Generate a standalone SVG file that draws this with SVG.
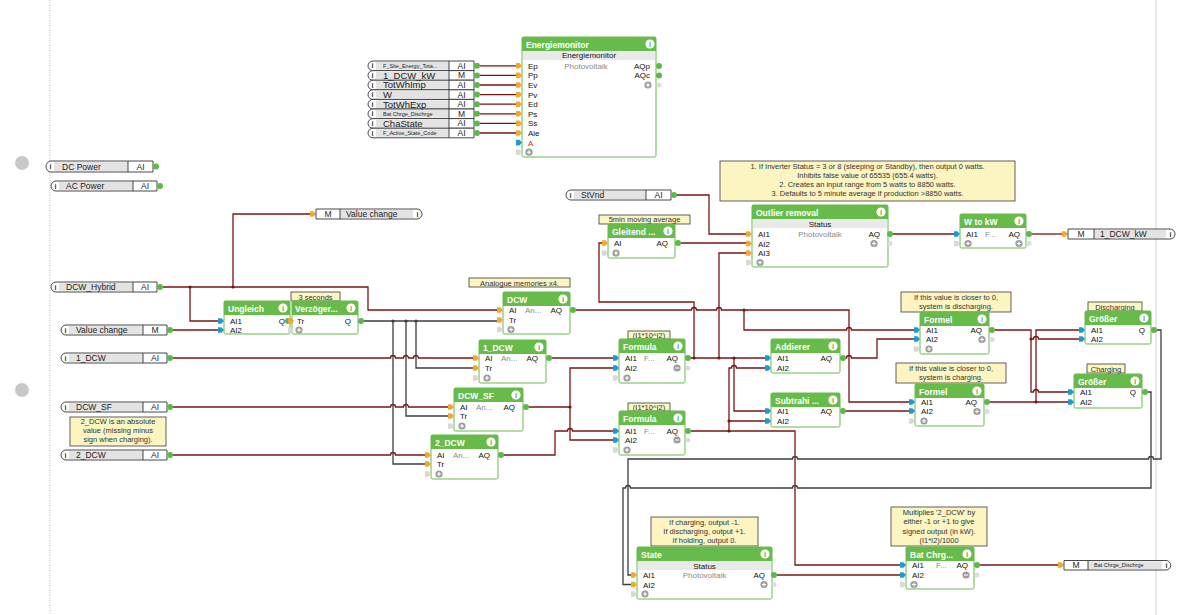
<svg xmlns="http://www.w3.org/2000/svg" width="1185" height="615" viewBox="0 0 1185 615">
<style>
text{font-family:"Liberation Sans",Arial,sans-serif}
.bx{fill:#fff;stroke:#66bb4a;stroke-width:1}
.hd{fill:#66bb4a}
.sb{fill:#e9e9e9}
.tt{font-size:8.5px;font-weight:bold;fill:#fff}
.lb{font-size:8px;fill:#111}
.gr{fill:#8a8a8a}
.c{text-anchor:middle}
.e{text-anchor:end}
.red{fill:#e02020}
.nb{fill:#fcf5c2;stroke:#3a3a3a;stroke-width:0.8}
.nt{font-size:7.5px;fill:#333;text-anchor:middle}
.pb{fill:#fff;stroke:#333;stroke-width:0.9}
.pg{fill:#e3e3e3}
.pt{font-size:8.5px;fill:#222}
.ps{font-size:5.5px;fill:#222}
.pL{font-size:9.5px;fill:#222}
.pi{font-size:7px;font-weight:bold;fill:#333;text-anchor:middle}
.w{fill:none;stroke:#7a1414;stroke-width:1.3}
.d{fill:none;stroke:#3c3c3c;stroke-width:1.3}
.jw{fill:#7a1414}
.jd{fill:#3c3c3c}
</style>
<defs>
<polygon id="po" points="-6,-2.8 -2.6,-2.8 0,0 -2.6,2.8 -6,2.8" fill="#f3a733"/>
<polygon id="pbl" points="-6,-2.8 -2.6,-2.8 0,0 -2.6,2.8 -6,2.8" fill="#1c9ad6"/>
<polygon id="px" points="-6,-2.8 -2.6,-2.8 0,0 -2.6,2.8 -6,2.8" fill="#d8d8d8"/>
<circle id="go" r="3" fill="#5cb84a"/>
<circle id="gi" r="2.5" fill="#dcdcdc"/>
<g id="pl"><circle r="3.6" fill="#9c9c9c"/><path d="M-2,0H2M0,-2V2" stroke="#fff" stroke-width="1.1"/></g>
<g id="mi"><circle r="3.6" fill="#9c9c9c"/><path d="M-2,0H2" stroke="#fff" stroke-width="1.1"/></g>
<g id="inf"><circle r="4.6" fill="#fff"/><text y="2.6" text-anchor="middle" font-size="7.5" font-weight="bold" fill="#5aa83f" font-family="Liberation Sans, Arial, sans-serif">i</text></g>
</defs>
<rect width="1185" height="615" fill="#fff"/>
<line x1="50" y1="0" x2="50" y2="615" stroke="#bbb" stroke-dasharray="1,1.5"/>
<line x1="1156" y1="0" x2="1156" y2="615" stroke="#e8e8e8" stroke-width="2"/>
<circle cx="22" cy="163" r="7" fill="#c8c8c8"/>
<circle cx="22" cy="390" r="7" fill="#c8c8c8"/>

<!-- connectors -->
<g id="connectors">
<path class="w" d="M480,65.8H516M480,75.4H516M480,85H516M480,94.6H516M480,104.2H516M480,113.8H516M480,123.4H516M480,133H516"/>
<path class="w" d="M677,195H709V234H747"/>
<path class="w" d="M681,243H747"/>
<path class="w" d="M893,234H955"/>
<path class="w" d="M1032,234H1063"/>
<path class="w" d="M163,287H368V310H498"/>
<path class="w" d="M190,287V321H219"/>
<path class="w" d="M233,287V214H311"/>
<path class="w" d="M173,330H219"/>
<path class="w" d="M173,358H390.5a2.5,2.5 0 0 1 5,0H403.5a2.5,2.5 0 0 1 5,0H413.5a2.5,2.5 0 0 1 5,0H474"/>
<path class="w" d="M173,407H390.5a2.5,2.5 0 0 1 5,0H403.5a2.5,2.5 0 0 1 5,0H449"/>
<path class="w" d="M173,455H390.5a2.5,2.5 0 0 1 5,0H426"/>
<path class="w" d="M576,310H691.5a2.5,2.5 0 0 1 5,0H716.5a2.5,2.5 0 0 1 5,0H849V402H910"/>
<path class="w" d="M744,310V330H846.5a2.5,2.5 0 0 1 5,0H915"/>
<path class="w" d="M552,358H614"/>
<path class="w" d="M529,407H570V368H614"/>
<path class="w" d="M570,407V440H614"/>
<path class="w" d="M504,455H555V431H567.5a2.5,2.5 0 0 1 5,0H614"/>
<path class="w" d="M691,358H766"/>
<path class="w" d="M694,358V302H599V243H603"/>
<path class="w" d="M719,358V253H747"/>
<path class="w" d="M734,358V411H766"/>
<path class="w" d="M691,431H795V565H901"/>
<path class="w" d="M729,431V368H731.5a2.5,2.5 0 0 1 5,0H766"/>
<path class="w" d="M729,421H766"/>
<path class="w" d="M846,358H846.5a2.5,2.5 0 0 1 5,0H877V339H915"/>
<path class="w" d="M846,411H910"/>
<path class="w" d="M995,330H1031V392H1033.5a2.5,2.5 0 0 1 5,0H1069"/>
<path class="w" d="M1031,339H1033.5a2.5,2.5 0 0 1 5,0H1080"/>
<path class="w" d="M990,402H1069"/>
<path class="w" d="M1036,402V330H1080"/>
<path class="w" d="M777,575H901"/>
<path class="w" d="M980,565H1059"/>
<path class="d" d="M287,321H289"/>
<path class="d" d="M364,321H498"/>
<path class="d" d="M393,321V464H426"/>
<path class="d" d="M406,321V416H449"/>
<path class="d" d="M416,321V368H474"/>
<path class="d" d="M1157,330H1161V459H1153.5a2.5,2.5 0 0 0 -5,0H797.5a2.5,2.5 0 0 0 -5,0H628V575H632"/>
<path class="d" d="M1148,392H1151V488H797.5a2.5,2.5 0 0 0 -5,0H630.5a2.5,2.5 0 0 0 -5,0H623V584.5H632"/>
<circle class="jw" cx="190" cy="287" r="1.6"/><circle class="jw" cx="233" cy="287" r="1.6"/>
<circle class="jd" cx="393" cy="321" r="1.6"/><circle class="jd" cx="406" cy="321" r="1.6"/><circle class="jd" cx="416" cy="321" r="1.6"/>
<circle class="jw" cx="570" cy="407" r="1.6"/><circle class="jw" cx="744" cy="310" r="1.6"/>
<circle class="jw" cx="694" cy="358" r="1.6"/><circle class="jw" cx="719" cy="358" r="1.6"/><circle class="jw" cx="734" cy="358" r="1.6"/>
<circle class="jw" cx="729" cy="431" r="1.6"/><circle class="jw" cx="729" cy="421" r="1.6"/>
<circle class="jw" cx="1031" cy="339" r="1.6"/><circle class="jw" cx="1036" cy="402" r="1.6"/>
</g>

<!-- left inputs -->
<g id="in-dcpower">
<path class="pb" d="M51,161H153V172H51A5,5.5 0 0 1 51,161Z"/><rect class="pg" x="54" y="162" width="74" height="9"/><path class="pb" d="M128,161V172"/>
<text class="pi" x="50.5" y="169">i</text><text class="pt" x="62" y="169.5">DC Power</text><text class="pt c" x="140.5" y="169.5">AI</text><use href="#go" x="156" y="166.5"/>
</g>
<g id="in-acpower">
<path class="pb" d="M56,181H157V191H56A5,5 0 0 1 56,181Z"/><rect class="pg" x="59" y="182" width="74" height="8"/><path class="pb" d="M133,181V191"/>
<text class="pi" x="55.5" y="188.5">i</text><text class="pt" x="66" y="189">AC Power</text><text class="pt c" x="145" y="189">AI</text><use href="#go" x="160" y="186"/>
</g>
<g id="in-dcwhybrid">
<path class="pb" d="M56,282H157V292H56A5,5 0 0 1 56,282Z"/><rect class="pg" x="59" y="283" width="74" height="8"/><path class="pb" d="M133,282V292"/>
<text class="pi" x="55.5" y="289.5">i</text><text class="pt" x="66" y="290">DCW_Hybrid</text><text class="pt c" x="145" y="290">AI</text><use href="#go" x="160" y="287"/>
</g>
<g id="in-valuechange">
<path class="pb" d="M66,325H167V335H66A5,5 0 0 1 66,325Z"/><rect class="pg" x="69" y="326" width="74" height="8"/><path class="pb" d="M143,325V335"/>
<text class="pi" x="65.5" y="332.5">i</text><text class="pt" x="76" y="333">Value change</text><text class="pt c" x="155" y="333">M</text><use href="#go" x="170" y="330"/>
</g>
<g id="in-1dcw">
<path class="pb" d="M66,353H167V363H66A5,5 0 0 1 66,353Z"/><rect class="pg" x="69" y="354" width="74" height="8"/><path class="pb" d="M143,353V363"/>
<text class="pi" x="65.5" y="360.5">i</text><text class="pt" x="76" y="361">1_DCW</text><text class="pt c" x="155" y="361">AI</text><use href="#go" x="170" y="358"/>
</g>
<g id="in-dcwsf">
<path class="pb" d="M66,402H167V412H66A5,5 0 0 1 66,402Z"/><rect class="pg" x="69" y="403" width="74" height="8"/><path class="pb" d="M143,402V412"/>
<text class="pi" x="65.5" y="409.5">i</text><text class="pt" x="76" y="410">DCW_SF</text><text class="pt c" x="155" y="410">AI</text><use href="#go" x="170" y="407"/>
</g>
<g id="in-2dcw">
<path class="pb" d="M66,450H167V460H66A5,5 0 0 1 66,450Z"/><rect class="pg" x="69" y="451" width="74" height="8"/><path class="pb" d="M143,450V460"/>
<text class="pi" x="65.5" y="457.5">i</text><text class="pt" x="76" y="458">2_DCW</text><text class="pt c" x="155" y="458">AI</text><use href="#go" x="170" y="455"/>
</g>
<g id="note-2dcw">
<rect class="nb" x="70" y="417" width="96" height="29"/>
<text class="nt" x="118" y="424">2_DCW is an absolute</text><text class="nt" x="118" y="433">value (missing minus</text><text class="nt" x="118" y="442">sign when charging).</text>
</g>
<g id="in-stvnd">
<path class="pb" d="M571,190H671V200H571A5,5 0 0 1 571,190Z"/><rect class="pg" x="574" y="191" width="72" height="8"/><path class="pb" d="M646,190V200"/>
<text class="pi" x="570.5" y="197.5">i</text><text class="pt" x="581" y="198">StVnd</text><text class="pt c" x="658.5" y="198">AI</text><use href="#go" x="674" y="195"/>
</g>

<!-- energiemonitor inputs -->
<g id="em-inputs">
<path class="pb" d="M373,61H474V70.6H373A5,4.8 0 0 1 373,61Z"/>
<path class="pb" d="M373,70.6H474V80.2H373A5,4.8 0 0 1 373,70.6Z"/>
<path class="pb" d="M373,80.2H474V89.8H373A5,4.8 0 0 1 373,80.2Z"/>
<path class="pb" d="M373,89.8H474V99.4H373A5,4.8 0 0 1 373,89.8Z"/>
<path class="pb" d="M373,99.4H474V109H373A5,4.8 0 0 1 373,99.4Z"/>
<path class="pb" d="M373,109H474V118.6H373A5,4.8 0 0 1 373,109Z"/>
<path class="pb" d="M373,118.6H474V128.2H373A5,4.8 0 0 1 373,118.6Z"/>
<path class="pb" d="M373,128.2H474V137.8H373A5,4.8 0 0 1 373,128.2Z"/>
<rect class="pg" x="376" y="62" width="73" height="7.6"/><rect class="pg" x="376" y="71.6" width="73" height="7.6"/>
<rect class="pg" x="376" y="81.2" width="73" height="7.6"/><rect class="pg" x="376" y="90.8" width="73" height="7.6"/>
<rect class="pg" x="376" y="100.4" width="73" height="7.6"/><rect class="pg" x="376" y="110" width="73" height="7.6"/>
<rect class="pg" x="376" y="119.6" width="73" height="7.6"/><rect class="pg" x="376" y="129.2" width="73" height="7.6"/>
<path class="pb" d="M449,61V137.8"/>
<text class="pi" x="372.5" y="68.3">i</text><text class="pi" x="372.5" y="77.9">i</text><text class="pi" x="372.5" y="87.5">i</text><text class="pi" x="372.5" y="97.1">i</text>
<text class="pi" x="372.5" y="106.7">i</text><text class="pi" x="372.5" y="116.3">i</text><text class="pi" x="372.5" y="125.9">i</text><text class="pi" x="372.5" y="135.5">i</text>
<text class="ps" x="383" y="67.8">F_Site_Energy_Tota...</text>
<text class="pL" x="383" y="78.8">1_DCW_kW</text>
<text class="pL" x="383" y="88.4">TotWhImp</text>
<text class="pL" x="383" y="98">W</text>
<text class="pL" x="383" y="107.6">TotWhExp</text>
<text class="ps" x="383" y="115.8">Bat Chrge_Dischrge</text>
<text class="pL" x="383" y="126.8">ChaState</text>
<text class="ps" x="383" y="135">F_Active_State_Code</text>
<text class="pt c" x="461.5" y="68.8">AI</text><text class="pt c" x="461.5" y="78.4">M</text><text class="pt c" x="461.5" y="88">AI</text><text class="pt c" x="461.5" y="97.6">AI</text>
<text class="pt c" x="461.5" y="107.2">AI</text><text class="pt c" x="461.5" y="116.8">M</text><text class="pt c" x="461.5" y="126.4">AI</text><text class="pt c" x="461.5" y="136">AI</text>
<use href="#go" x="477" y="65.8"/><use href="#go" x="477" y="75.4"/><use href="#go" x="477" y="85"/><use href="#go" x="477" y="94.6"/>
<use href="#go" x="477" y="104.2"/><use href="#go" x="477" y="113.8"/><use href="#go" x="477" y="123.4"/><use href="#go" x="477" y="133"/>
</g>

<g id="energiemonitor">
<rect class="bx" x="522" y="37" width="134" height="120" rx="1.5"/>
<rect class="hd" x="522" y="37" width="134" height="14"/>
<rect class="sb" x="523" y="51" width="132" height="9"/>
<text class="tt" x="526" y="47.5">Energiemonitor</text><use href="#inf" x="650" y="44"/>
<text class="lb c" x="589" y="58.3" fill="#333">Energiemonitor</text>
<text class="lb gr c" x="586" y="68.5">Photovoltaik</text>
<use href="#po" x="522" y="65.8"/><use href="#po" x="522" y="75.4"/><use href="#po" x="522" y="85"/><use href="#po" x="522" y="94.6"/>
<use href="#po" x="522" y="104.2"/><use href="#po" x="522" y="113.8"/><use href="#po" x="522" y="123.4"/><use href="#po" x="522" y="133"/>
<use href="#pbl" x="522" y="142.6"/><use href="#px" x="522" y="152.2"/>
<text class="lb" x="528" y="68.8">Ep</text><text class="lb" x="528" y="78.4">Pp</text><text class="lb" x="528" y="88">Ev</text><text class="lb" x="528" y="97.6">Pv</text>
<text class="lb" x="528" y="107.2">Ed</text><text class="lb" x="528" y="116.8">Ps</text><text class="lb" x="528" y="126.4">Ss</text><text class="lb" x="528" y="136">Ale</text>
<text class="lb red" x="528" y="145.6">A</text>
<use href="#pl" x="529" y="152.2"/>
<text class="lb e" x="650" y="69">AQp</text><text class="lb e" x="650" y="78.4">AQc</text>
<use href="#pl" x="648" y="85"/>
<use href="#go" x="659" y="66"/><use href="#go" x="659" y="75.4"/><use href="#gi" x="659" y="85"/>
</g>

<g id="note-outlier">
<rect class="nb" x="720" y="161" width="295" height="40"/>
<text class="nt" x="867.5" y="168.5">1. If Inverter Status = 3 or 8 (sleeping or Standby), then output 0 watts.</text>
<text class="nt" x="867.5" y="178">Inhibits false value of 65535 (655.4 watts).</text>
<text class="nt" x="867.5" y="187">2. Creates an input range from 5 watts to 8850 watts.</text>
<text class="nt" x="867.5" y="196">3. Defaults to 5 minute average if production &gt;8850 watts.</text>
</g>

<g id="outlier">
<rect class="bx" x="752" y="205" width="136" height="62" rx="1.5"/>
<rect class="hd" x="752" y="205" width="136" height="14"/>
<rect class="sb" x="753" y="219" width="134" height="9"/>
<text class="tt" x="756" y="215.5">Outlier removal</text><use href="#inf" x="881" y="212"/>
<text class="lb c" x="820" y="226.5" fill="#333">Status</text>
<text class="lb gr c" x="820" y="237">Photovoltaik</text>
<use href="#po" x="752" y="234"/><use href="#po" x="752" y="243.5"/><use href="#po" x="752" y="253"/><use href="#px" x="752" y="262.5"/>
<text class="lb" x="758" y="237">AI1</text><text class="lb" x="758" y="246.5">AI2</text><text class="lb" x="758" y="256">AI3</text>
<use href="#pl" x="760" y="262.5"/>
<text class="lb e" x="880" y="237">AQ</text><use href="#pl" x="874" y="243.5"/>
<use href="#go" x="890" y="234"/><use href="#gi" x="890" y="243.5"/>
</g>

<g id="gleitend">
<rect class="nb" x="599" y="215" width="91" height="9"/>
<text class="nt" x="644.5" y="222.3">5min moving average</text>
<rect class="bx" x="608" y="224" width="67" height="34" rx="1.5"/>
<rect class="hd" x="608" y="224" width="67" height="14"/>
<text class="tt" x="612" y="234.5">Gleitend ...</text><use href="#inf" x="668" y="231"/>
<use href="#po" x="608" y="243"/><use href="#px" x="608" y="253"/>
<text class="lb" x="614" y="246">AI</text><use href="#pl" x="616" y="253"/>
<text class="lb e" x="668" y="246">AQ</text><use href="#go" x="678" y="243"/>
</g>

<g id="wtokw">
<rect class="bx" x="960" y="214" width="66" height="34" rx="1.5"/>
<rect class="hd" x="960" y="214" width="66" height="14"/>
<text class="tt" x="964" y="224.5">W to kW</text><use href="#inf" x="1019" y="221"/>
<use href="#pbl" x="960" y="234"/><use href="#px" x="960" y="243.5"/>
<text class="lb" x="966" y="237">AI1</text><text class="lb gr" x="985" y="237">F...</text>
<text class="lb e" x="1020" y="237">AQ</text>
<use href="#pl" x="968" y="243.5"/><use href="#pl" x="1019" y="243.5"/>
<use href="#go" x="1029" y="234"/><use href="#gi" x="1029" y="243.5"/>
</g>

<g id="out-1dcwkw">
<use href="#po" x="1068" y="234"/>
<path class="pb" d="M1068,229H1170A5,5 0 0 1 1170,239H1068Z"/><rect class="pg" x="1094" y="230" width="72" height="8"/><path class="pb" d="M1094,229V239"/>
<text class="pt c" x="1081" y="237">M</text><text class="pt" x="1100" y="237">1_DCW_kW</text><text class="pi" x="1170.5" y="236.5">i</text>
</g>

<g id="out-valuechange">
<use href="#po" x="316" y="214"/>
<path class="pb" d="M316,209H417A5,5 0 0 1 417,219H316Z"/><rect class="pg" x="340" y="210" width="73" height="8"/><path class="pb" d="M340,209V219"/>
<text class="pt c" x="328" y="217">M</text><text class="pt" x="346" y="217">Value change</text><text class="pi" x="417.5" y="216.5">i</text>
</g>

<g id="ungleich">
<rect class="bx" x="224" y="301" width="66" height="33" rx="1.5"/>
<rect class="hd" x="224" y="301" width="66" height="14"/>
<text class="tt" x="228" y="311.5">Ungleich</text><use href="#inf" x="283" y="308"/>
<use href="#pbl" x="224" y="321"/><use href="#pbl" x="224" y="330"/>
<text class="lb" x="230" y="324">AI1</text><text class="lb" x="230" y="333">AI2</text>
<text class="lb e" x="285" y="324">Q</text><use href="#go" x="288" y="321"/>
</g>

<g id="verzoegerung">
<rect class="nb" x="291" y="292" width="49" height="9"/>
<text class="nt" x="315.5" y="299.5">3 seconds</text>
<rect class="bx" x="292" y="301" width="66" height="33" rx="1.5"/>
<rect class="hd" x="292" y="301" width="66" height="14"/>
<text class="tt" x="295" y="311.5">Verzöger...</text><use href="#inf" x="351" y="308"/>
<use href="#po" x="294" y="321"/><use href="#px" x="294" y="330"/>
<text class="lb" x="297" y="324">Tr</text><use href="#pl" x="299" y="330"/>
<text class="lb e" x="351" y="324">Q</text><use href="#go" x="361" y="321"/>
</g>

<g id="mem-dcw">
<rect class="nb" x="469" y="278" width="101" height="9"/>
<text class="nt" x="519.5" y="285.5">Analogue memories x4.</text>
<rect class="bx" x="503" y="292" width="67" height="42" rx="1.5"/>
<rect class="hd" x="503" y="292" width="67" height="14"/>
<text class="tt" x="507" y="302.5">DCW</text><use href="#inf" x="563" y="299"/>
<use href="#po" x="503" y="310"/><use href="#po" x="503" y="320"/><use href="#px" x="503" y="329.5"/>
<text class="lb" x="509" y="313">AI</text><text class="lb" x="509" y="323">Tr</text><use href="#pl" x="511" y="329.5"/>
<text class="lb gr" x="525" y="313">An...</text><text class="lb e" x="562" y="313">AQ</text><use href="#go" x="573" y="310"/>
</g>

<g id="mem-1dcw">
<rect class="bx" x="479" y="340" width="67" height="43" rx="1.5"/>
<rect class="hd" x="479" y="340" width="67" height="14"/>
<text class="tt" x="483" y="350.5">1_DCW</text><use href="#inf" x="539" y="347"/>
<use href="#po" x="479" y="358"/><use href="#po" x="479" y="368"/><use href="#px" x="479" y="378"/>
<text class="lb" x="485" y="361">AI</text><text class="lb" x="485" y="371">Tr</text><use href="#pl" x="487" y="378"/>
<text class="lb gr" x="501" y="361">An...</text><text class="lb e" x="538" y="361">AQ</text><use href="#go" x="549" y="358"/>
</g>

<g id="mem-dcwsf">
<rect class="bx" x="454" y="388" width="69" height="43" rx="1.5"/>
<rect class="hd" x="454" y="388" width="69" height="14"/>
<text class="tt" x="458" y="398.5">DCW_SF</text><use href="#inf" x="516" y="395"/>
<use href="#po" x="454" y="407"/><use href="#po" x="454" y="416"/><use href="#px" x="454" y="426"/>
<text class="lb" x="460" y="410">AI</text><text class="lb" x="460" y="419">Tr</text><use href="#pl" x="462" y="426"/>
<text class="lb gr" x="476" y="410">An...</text><text class="lb e" x="515" y="410">AQ</text><use href="#go" x="526" y="407"/>
</g>

<g id="mem-2dcw">
<rect class="bx" x="431" y="435" width="67" height="44" rx="1.5"/>
<rect class="hd" x="431" y="435" width="67" height="14"/>
<text class="tt" x="435" y="445.5">2_DCW</text><use href="#inf" x="491" y="442"/>
<use href="#po" x="431" y="455"/><use href="#po" x="431" y="464"/><use href="#px" x="431" y="474"/>
<text class="lb" x="437" y="458">AI</text><text class="lb" x="437" y="467">Tr</text><use href="#pl" x="439" y="474"/>
<text class="lb gr" x="453" y="458">An...</text><text class="lb e" x="490" y="458">AQ</text><use href="#go" x="501" y="455"/>
</g>

<g id="formula-1">
<rect class="nb" x="628" y="331" width="42" height="8"/>
<text class="nt" x="649" y="337.8">(I1*10^I2)</text>
<rect class="bx" x="619" y="339" width="66" height="44" rx="1.5"/>
<rect class="hd" x="619" y="339" width="66" height="14"/>
<text class="tt" x="623" y="349.5">Formula</text><use href="#inf" x="678" y="346"/>
<use href="#pbl" x="619" y="358"/><use href="#pbl" x="619" y="368"/><use href="#px" x="619" y="378"/>
<text class="lb" x="625" y="361">AI1</text><text class="lb" x="625" y="371">AI2</text><use href="#pl" x="627" y="378"/>
<text class="lb gr" x="644" y="361">F...</text><text class="lb e" x="678" y="361">AQ</text>
<use href="#mi" x="677" y="368"/><use href="#go" x="688" y="358"/><use href="#gi" x="688" y="368"/>
</g>

<g id="formula-2">
<rect class="nb" x="628" y="403" width="42" height="8"/>
<text class="nt" x="649" y="409.8">(I1*10^I2)</text>
<rect class="bx" x="619" y="411" width="66" height="44" rx="1.5"/>
<rect class="hd" x="619" y="411" width="66" height="14"/>
<text class="tt" x="623" y="421.5">Formula</text><use href="#inf" x="678" y="418"/>
<use href="#pbl" x="619" y="431"/><use href="#pbl" x="619" y="440"/><use href="#px" x="619" y="450"/>
<text class="lb" x="625" y="434">AI1</text><text class="lb" x="625" y="443">AI2</text><use href="#pl" x="627" y="450"/>
<text class="lb gr" x="644" y="434">F...</text><text class="lb e" x="678" y="434">AQ</text>
<use href="#mi" x="677" y="440"/><use href="#go" x="688" y="431"/><use href="#gi" x="688" y="440"/>
</g>

<g id="addierer">
<rect class="bx" x="771" y="339" width="69" height="34" rx="1.5"/>
<rect class="hd" x="771" y="339" width="69" height="14"/>
<text class="tt" x="775" y="349.5">Addierer</text><use href="#inf" x="833" y="346"/>
<use href="#pbl" x="771" y="358"/><use href="#pbl" x="771" y="368"/>
<text class="lb" x="777" y="361">AI1</text><text class="lb" x="777" y="371">AI2</text>
<text class="lb e" x="832" y="361">AQ</text><use href="#go" x="843" y="358"/>
</g>

<g id="subtrahierer">
<rect class="bx" x="771" y="393" width="69" height="34" rx="1.5"/>
<rect class="hd" x="771" y="393" width="69" height="14"/>
<text class="tt" x="775" y="403.5">Subtrahi ...</text><use href="#inf" x="833" y="400"/>
<use href="#pbl" x="771" y="411"/><use href="#pbl" x="771" y="421"/>
<text class="lb" x="777" y="414">AI1</text><text class="lb" x="777" y="424">AI2</text>
<text class="lb e" x="832" y="414">AQ</text><use href="#go" x="843" y="411"/>
</g>

<g id="formel-1">
<rect class="nb" x="901" y="292" width="110" height="20"/>
<text class="nt" x="956" y="299.5">If this value is closer to 0,</text>
<text class="nt" x="956" y="308.5">system is discharging.</text>
<rect class="bx" x="920" y="312" width="69" height="42" rx="1.5"/>
<rect class="hd" x="920" y="312" width="69" height="14"/>
<text class="tt" x="924" y="322.5">Formel</text><use href="#inf" x="982" y="319"/>
<use href="#pbl" x="920" y="330"/><use href="#pbl" x="920" y="339"/><use href="#px" x="920" y="349"/>
<text class="lb" x="926" y="333">AI1</text><text class="lb" x="926" y="342">AI2</text><use href="#pl" x="929" y="349"/>
<text class="lb e" x="982" y="333">AQ</text><use href="#pl" x="982" y="339.5"/>
<use href="#go" x="992" y="330"/><use href="#gi" x="992" y="339.5"/>
</g>

<g id="formel-2">
<rect class="nb" x="896" y="363" width="110" height="20"/>
<text class="nt" x="951" y="370.5">If this value is closer to 0,</text>
<text class="nt" x="951" y="379.5">system is charging.</text>
<rect class="bx" x="915" y="384" width="69" height="42" rx="1.5"/>
<rect class="hd" x="915" y="384" width="69" height="14"/>
<text class="tt" x="919" y="394.5">Formel</text><use href="#inf" x="977" y="391"/>
<use href="#pbl" x="915" y="402"/><use href="#pbl" x="915" y="411"/><use href="#px" x="915" y="421"/>
<text class="lb" x="921" y="405">AI1</text><text class="lb" x="921" y="414">AI2</text><use href="#pl" x="924" y="421"/>
<text class="lb e" x="977" y="405">AQ</text><use href="#pl" x="977" y="411.5"/>
<use href="#go" x="987" y="402"/><use href="#gi" x="987" y="411.5"/>
</g>

<g id="groesser-discharging">
<rect class="nb" x="1088" y="302" width="54" height="9"/>
<text class="nt" x="1115" y="309.5">Discharging</text>
<rect class="bx" x="1085" y="311" width="66" height="33" rx="1.5"/>
<rect class="hd" x="1085" y="311" width="66" height="14"/>
<text class="tt" x="1089" y="321.5">Größer</text><use href="#inf" x="1144" y="318"/>
<use href="#pbl" x="1085" y="330"/><use href="#pbl" x="1085" y="339"/>
<text class="lb" x="1091" y="333">AI1</text><text class="lb" x="1091" y="342">AI2</text>
<text class="lb e" x="1145" y="333">Q</text><use href="#go" x="1154" y="330"/>
</g>

<g id="groesser-charging">
<rect class="nb" x="1087" y="364" width="38" height="9"/>
<text class="nt" x="1106" y="371.5">Charging</text>
<rect class="bx" x="1074" y="374" width="68" height="34" rx="1.5"/>
<rect class="hd" x="1074" y="374" width="68" height="14"/>
<text class="tt" x="1078" y="384.5">Größer</text><use href="#inf" x="1135" y="381"/>
<use href="#pbl" x="1074" y="392"/><use href="#pbl" x="1074" y="402"/>
<text class="lb" x="1080" y="395">AI1</text><text class="lb" x="1080" y="405">AI2</text>
<text class="lb e" x="1136" y="395">Q</text><use href="#go" x="1145" y="392"/>
</g>

<g id="state">
<rect class="nb" x="651" y="517" width="107" height="29"/>
<text class="nt" x="704.5" y="524.5">If charging, output -1.</text>
<text class="nt" x="704.5" y="533.5">If discharging, output +1.</text>
<text class="nt" x="704.5" y="542.5">If holding, output 0.</text>
<rect class="bx" x="637" y="547" width="135" height="52" rx="1.5"/>
<rect class="hd" x="637" y="547" width="135" height="14"/>
<rect class="sb" x="638" y="561" width="133" height="9"/>
<text class="tt" x="641" y="557.5">State</text><use href="#inf" x="765" y="554"/>
<text class="lb c" x="704.5" y="568.5" fill="#333">Status</text>
<text class="lb gr c" x="704.5" y="578">Photovoltaik</text>
<use href="#po" x="637" y="575"/><use href="#po" x="637" y="584.5"/><use href="#px" x="637" y="594"/>
<text class="lb" x="643" y="578">AI1</text><text class="lb" x="643" y="587.5">AI2</text><use href="#pl" x="645" y="594"/>
<text class="lb e" x="765" y="578">AQ</text><use href="#pl" x="764" y="584.5"/>
<use href="#go" x="774" y="575"/><use href="#gi" x="774" y="584.5"/>
</g>

<g id="batchrg">
<rect class="nb" x="891" y="507" width="96" height="39"/>
<text class="nt" x="939" y="514.5">Multiplies '2_DCW' by</text>
<text class="nt" x="939" y="524">either -1 or +1 to give</text>
<text class="nt" x="939" y="533.5">signed output (in kW).</text>
<text class="nt" x="939" y="543">(I1*I2)/1000</text>
<rect class="bx" x="906" y="547" width="68" height="42" rx="1.5"/>
<rect class="hd" x="906" y="547" width="68" height="14"/>
<text class="tt" x="910" y="557.5">Bat Chrg...</text><use href="#inf" x="967" y="554"/>
<use href="#pbl" x="906" y="565"/><use href="#pbl" x="906" y="575"/><use href="#px" x="906" y="584.5"/>
<text class="lb" x="912" y="568">AI1</text><text class="lb" x="912" y="578">AI2</text><use href="#pl" x="914" y="584.5"/>
<text class="lb gr" x="936" y="568">F...</text><text class="lb e" x="968" y="568">AQ</text>
<use href="#mi" x="966" y="575"/><use href="#go" x="977" y="565"/><use href="#gi" x="977" y="575"/>
</g>

<g id="out-batchrg">
<use href="#po" x="1064" y="565"/>
<path class="pb" d="M1064,560.5H1166A4.75,4.75 0 0 1 1166,570H1064Z"/><rect class="pg" x="1088" y="561.5" width="74" height="7.5"/><path class="pb" d="M1088,560.5V570"/>
<text class="pt c" x="1076" y="568.3">M</text><text class="ps" x="1094" y="567.3">Bat Chrge_Dischrge</text><text class="pi" x="1166.5" y="567.8">i</text>
</g>
</svg>
